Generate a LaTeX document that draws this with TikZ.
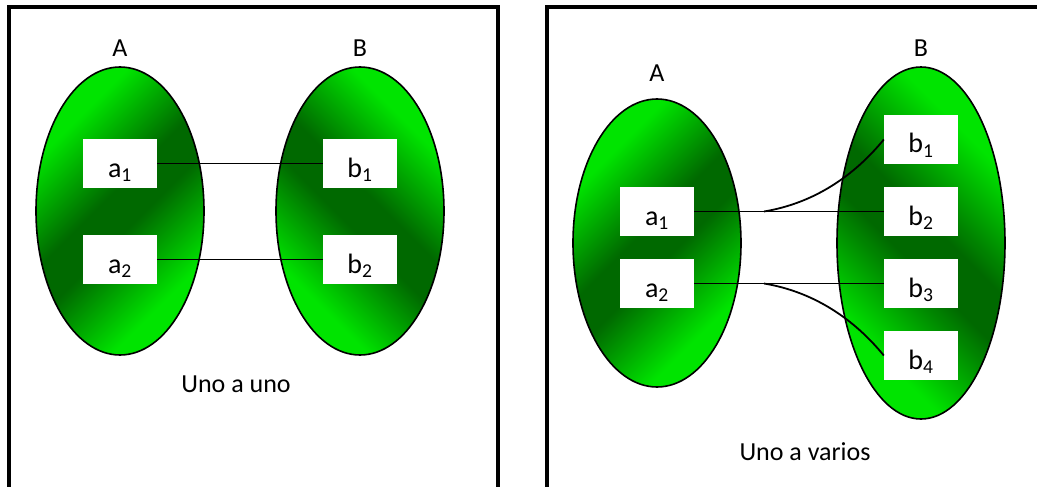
\documentclass[tikz,border=0pt]{standalone}
\usepackage{fontspec}
\setmainfont{Carlito}
\definecolor{litegreen}{RGB}{0,228,0}
\definecolor{deepgreen}{RGB}{0,105,0}
\pgfdeclareverticalshading{setband}{100bp}{color(0bp)=(litegreen); color(29bp)=(litegreen); color(46bp)=(deepgreen); color(54bp)=(deepgreen); color(71bp)=(litegreen); color(100bp)=(litegreen)}
\tikzset{
  setshape/.style={shading=setband, draw=black, line width=1.6pt},
  elem/.style={fill=white, minimum width=74pt, minimum height=49pt, inner sep=0pt,
    text height=27pt, text depth=0pt, font=\fontsize{28}{30}\selectfont},
  settitle/.style={font=\fontsize{26}{28}\selectfont},
  link/.style={line width=1.8pt},
  frame/.style={line width=4pt}
}

\begin{document}
\begin{tikzpicture}[x=1pt,y=-1pt]
    \useasboundingbox (0,0) rectangle (1037,487);
    \draw[frame] (9,495) -- (9,7) -- (498,7) -- (498,495);
    \draw[frame] (547,495) -- (547,7) -- (1045,7);
    % uno a uno
    \begin{scope}
        \shade[setshape,shading angle=45] (120,211) ellipse [x radius=84, y radius=144];
        \shade[setshape,shading angle=-45] (360,211) ellipse [x radius=84, y radius=144];
        \node[settitle] (lA) at (120,48) {A};
        \node[settitle] (lB) at (360,48) {B};
        \node[elem] (la1) at (120,163.5) {a\textsubscript{1}};
        \node[elem] (la2) at (120,259.5) {a\textsubscript{2}};
        \node[elem] (lb1) at (360,163.5) {b\textsubscript{1}};
        \node[elem] (lb2) at (360,259.5) {b\textsubscript{2}};
        \draw[link] (la1.east) -- (lb1.west);
        \draw[link] (la2.east) -- (lb2.west);
        \node[settitle] (luno) at (236,384) {Uno a uno};
    \end{scope}
    % uno a varios
    \begin{scope}
        \shade[setshape,shading angle=45] (657,243) ellipse [x radius=84, y radius=144];
        \shade[setshape,shading angle=-45] (921,243) ellipse [x radius=84, y radius=176];
        \node[settitle] (rA) at (657,73) {A};
        \node[settitle] (rB) at (921,48) {B};
        \node[elem] (ra1) at (657,211.5) {a\textsubscript{1}};
        \node[elem] (ra2) at (657,283.5) {a\textsubscript{2}};
        \node[elem] (rb1) at (921,139.5) {b\textsubscript{1}};
        \node[elem] (rb2) at (921,211.5) {b\textsubscript{2}};
        \node[elem] (rb3) at (921,283.5) {b\textsubscript{3}};
        \node[elem] (rb4) at (921,355.5) {b\textsubscript{4}};
        \coordinate (rs1) at (764,211.5);
        \coordinate (rs2) at (764,283.5);
        \draw[link] (ra1.east) -- (rb2.west);
        \draw[link] (ra2.east) -- (rb3.west);
        \draw[link] (rs1) .. controls +(51,-8.5) and +(-29,35.5) .. (rb1.west);
        \draw[link] (rs2) .. controls +(51,8.5) and +(-29,-35.5) .. (rb4.west);
        \node[settitle] (rvarios) at (805,452) {Uno a varios};
    \end{scope}
\end{tikzpicture}
\end{document}
